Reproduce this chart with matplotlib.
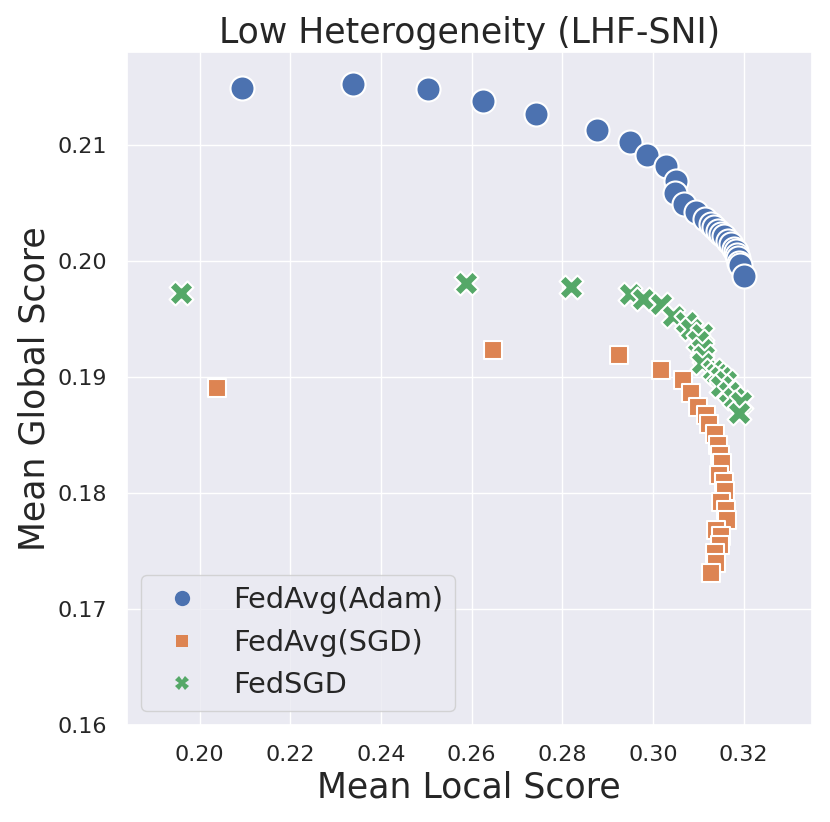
import matplotlib
matplotlib.use("Agg")
import matplotlib.pyplot as plt
from matplotlib.lines import Line2D
import seaborn as sns

sns.set_theme(style="darkgrid")
plt.rcParams['font.family'] = ['DejaVu Sans']

adam_x = [0.2093, 0.2338, 0.2503, 0.2625, 0.2742, 0.2877, 0.2949, 0.2987, 0.3029, 0.3051,
          0.3049, 0.3068, 0.3095, 0.3115, 0.3128, 0.3135, 0.3143, 0.3150, 0.3157, 0.3166,
          0.3172, 0.3179, 0.3183, 0.3185, 0.3188, 0.3190, 0.3192, 0.3201]
adam_y = [0.2149, 0.2152, 0.2148, 0.2138, 0.2126, 0.2113, 0.2102, 0.2091, 0.2082, 0.2069,
          0.2058, 0.2049, 0.2042, 0.2036, 0.2032, 0.2029, 0.2026, 0.2023, 0.2021, 0.2017,
          0.2014, 0.2010, 0.2008, 0.2005, 0.2002, 0.1998, 0.1996, 0.1987]

sgd_x = [0.2038, 0.2647, 0.2925, 0.3018, 0.3066, 0.3084, 0.3099, 0.3117, 0.3124, 0.3137,
         0.3143, 0.3148, 0.3152, 0.3146, 0.3157, 0.3159, 0.3150, 0.3161, 0.3163, 0.3139,
         0.3150, 0.3148, 0.3137, 0.3139, 0.3128]
sgd_y = [0.1890, 0.1923, 0.1919, 0.1906, 0.1897, 0.1886, 0.1874, 0.1867, 0.1859, 0.1851,
         0.1841, 0.1833, 0.1826, 0.1815, 0.1809, 0.1802, 0.1792, 0.1785, 0.1777, 0.1768,
         0.1763, 0.1755, 0.1748, 0.1740, 0.1731]

fedsgd_x = [0.1958, 0.2587, 0.2819, 0.2949, 0.2978, 0.3018, 0.3044, 0.3073, 0.3084, 0.3107,
            0.3100, 0.3107, 0.3113, 0.3107, 0.3133, 0.3142, 0.3150, 0.3161, 0.3150, 0.3168,
            0.3179, 0.3194, 0.3190]
fedsgd_y = [0.1972, 0.1981, 0.1977, 0.1971, 0.1967, 0.1963, 0.1952, 0.1947, 0.1941, 0.1937,
            0.1931, 0.1924, 0.1918, 0.1912, 0.1906, 0.1902, 0.1900, 0.1896, 0.1892, 0.1887,
            0.1882, 0.1878, 0.1869]

labels = ["FedAvg(Adam)", "FedAvg(SGD)", "FedSGD"]
colors = sns.color_palette("deep")[:3]

fig = plt.figure(figsize=(8.3, 8.22), dpi=100)
ax = fig.add_axes([0.153, 0.118, 0.825, 0.819])

ax.scatter(adam_x, adam_y, s=300, marker='o', color=colors[0], edgecolor='white', linewidth=1.5, zorder=3)
ax.scatter(sgd_x, sgd_y, s=170, marker='s', color=colors[1], edgecolor='white', linewidth=1.5, zorder=3)
ax.scatter(fedsgd_x, fedsgd_y, s=300, marker='X', color=colors[2], edgecolor='white', linewidth=1.5, zorder=3)

ax.set_xlim(0.184, 0.335)
ax.set_ylim(0.16, 0.218)
ax.set_xticks([0.20, 0.22, 0.24, 0.26, 0.28, 0.30, 0.32])
ax.set_yticks([0.16, 0.17, 0.18, 0.19, 0.20, 0.21])
ax.tick_params(labelsize=16, pad=plt.rcParams['ytick.major.pad'] + 5)
ax.set_xlabel("Mean Local Score", fontsize=25)
ax.set_ylabel("Mean Global Score", fontsize=25)
ax.set_title("Low Heterogeneity (LHF-SNI)", fontsize=25)

handles = [
    Line2D([], [], linestyle='none', marker='o', markersize=11, color=colors[0], markeredgewidth=0),
    Line2D([], [], linestyle='none', marker='s', markersize=8, color=colors[1], markeredgewidth=0),
    Line2D([], [], linestyle='none', marker='X', markersize=10, color=colors[2], markeredgewidth=0),
]
ax.legend(handles, labels, loc='lower left', fontsize=20.7)

fig.savefig("out.png", dpi=100)
